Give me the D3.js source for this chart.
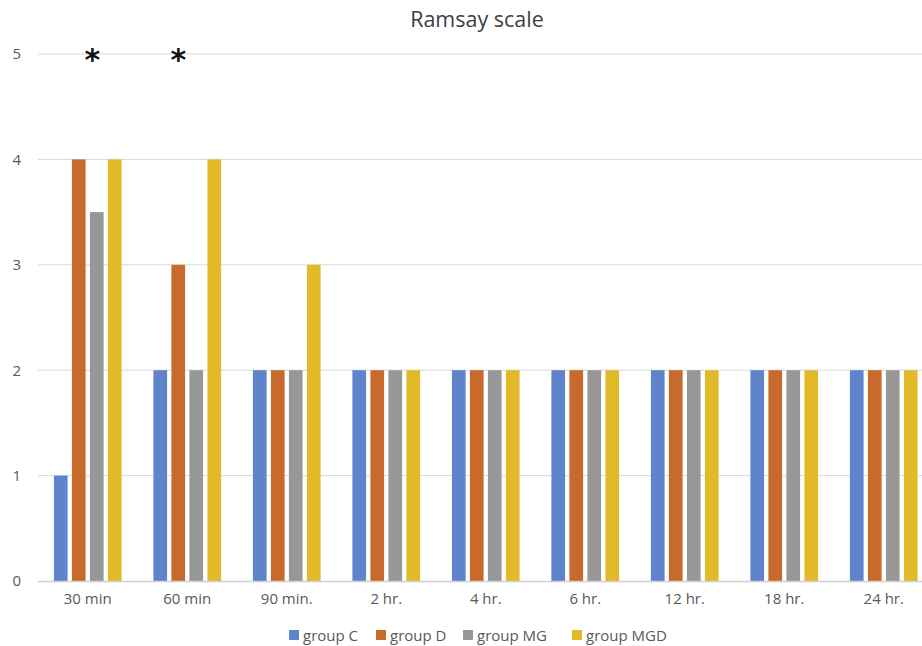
<!DOCTYPE html>
<html>
<head>
<meta charset="utf-8">
<script src="https://cdn.jsdelivr.net/npm/d3@7/dist/d3.min.js"></script>
<style>
  html, body { margin: 0; padding: 0; background: #fff; overflow: hidden; }
  svg { display: block; font-family: "Open Sans", "Noto Sans", sans-serif; }
</style>
</head>
<body>
<svg id="chart" width="922" height="646"></svg>
<script>
// Ramsay sedation scores by time point for four groups
const categories = ["30 min", "60 min", "90 min.", "2 hr.", "4 hr.", "6 hr.", "12 hr.", "18 hr.", "24 hr."];
const seriesNames = ["group C", "group D", "group MG", "group MGD"];
const groupC   = [1, 2, 2, 2, 2, 2, 2, 2, 2];
const groupD   = [4, 3, 2, 2, 2, 2, 2, 2, 2];
const groupMG  = [3.5, 2, 2, 2, 2, 2, 2, 2, 2];
const groupMGD = [4, 4, 3, 2, 2, 2, 2, 2, 2];
const yTicks = [0, 1, 2, 3, 4, 5];
// significance markers: time point and the series they sit over
const markers = [
  { category: "30 min", series: "group MG", align: "start" },
  { category: "60 min", series: "group D", align: "center" }
];

const colors = ["#5f84cc", "#c96a2d", "#979797", "#e2b928"];
const seriesValues = [groupC, groupD, groupMG, groupMGD];

const svg = d3.select("#chart");
const margin = { left: 38, top: 54, bottom: 65 };
const plotBottom = 646 - margin.bottom;
const plotRight = margin.left + 99.5 * categories.length;

const x = d3.scaleBand().domain(categories).range([margin.left, plotRight]).paddingInner(0).paddingOuter(0);
const groupInset = 15.9;
const xSub = d3.scaleBand().domain(seriesNames)
  .range([groupInset, x.bandwidth() - groupInset]).paddingInner(0.24).paddingOuter(0);
const y = d3.scaleLinear().domain([0, 5]).range([plotBottom, margin.top]);

// gridlines
svg.append("g")
  .selectAll("line")
  .data(yTicks.filter(d => d > 0))
  .join("line")
  .attr("x1", margin.left).attr("x2", plotRight)
  .attr("y1", d => y(d)).attr("y2", d => y(d))
  .attr("stroke", "#d9d9d9").attr("stroke-width", 1);

// y axis labels
const yAxis = d3.axisLeft(y).tickValues(yTicks).tickFormat(d3.format("d")).tickSize(0).tickPadding(0);
const yg = svg.append("g").attr("transform", `translate(21,0)`).call(yAxis);
yg.select(".domain").remove();
yg.selectAll("text").attr("fill", "#595959").style("font-size", "15px")
  .style("font-family", "'Open Sans', 'Noto Sans', sans-serif");

// bars
const table = categories.map((c, i) => ({ category: c, values: seriesNames.map((s, j) => ({ s, v: seriesValues[j][i], j })) }));
svg.append("g")
  .selectAll("g")
  .data(table)
  .join("g")
  .attr("transform", d => `translate(${x(d.category)},0)`)
  .selectAll("rect")
  .data(d => d.values)
  .join("rect")
  .attr("x", d => xSub(d.s))
  .attr("width", xSub.bandwidth())
  .attr("y", d => y(d.v))
  .attr("height", d => y(0) - y(d.v))
  .attr("fill", d => colors[d.j]);

// baseline
svg.append("line")
  .attr("x1", margin.left).attr("x2", plotRight)
  .attr("y1", y(0) + 0.5).attr("y2", y(0) + 0.5)
  .attr("stroke", "#d0d0d0").attr("stroke-width", 1.5);

// x axis labels
const xAxis = d3.axisBottom(x).tickSize(0).tickPadding(0);
const xg = svg.append("g").attr("transform", `translate(0,${y(0) + 12})`).call(xAxis);
xg.select(".domain").remove();
xg.selectAll("text").attr("fill", "#595959").style("font-size", "15px")
  .style("font-family", "'Open Sans', 'Noto Sans', sans-serif");

// significance asterisks
svg.append("g")
  .selectAll("text")
  .data(markers)
  .join("text")
  .attr("x", d => x(d.category) + xSub(d.series) + (d.align === "center" ? xSub.bandwidth() / 2 : 2.5))
  .attr("y", y(5) + 16)
  .attr("text-anchor", "middle")
  .attr("fill", "#111")
  .style("font-size", "30px")
  .style("font-weight", "bold")
  .style("font-family", "'DejaVu Sans', sans-serif")
  .text("*");

// title
svg.append("text")
  .attr("x", 477).attr("y", 27)
  .attr("text-anchor", "middle")
  .attr("fill", "#404040")
  .style("font-size", "21.5px")
  .text("Ramsay scale");

// legend
const legendX = [289, 376, 463, 572];
const legend = svg.append("g")
  .selectAll("g")
  .data(seriesNames)
  .join("g")
  .attr("transform", (d, i) => `translate(${legendX[i]},635)`);
legend.append("rect").attr("x", 0).attr("y", -5).attr("width", 10).attr("height", 10)
  .attr("fill", (d, i) => colors[i]);
legend.append("text").attr("x", 14).attr("y", 5.5)
  .attr("fill", "#595959").style("font-size", "15px").text(d => d);
</script>
</body>
</html>
